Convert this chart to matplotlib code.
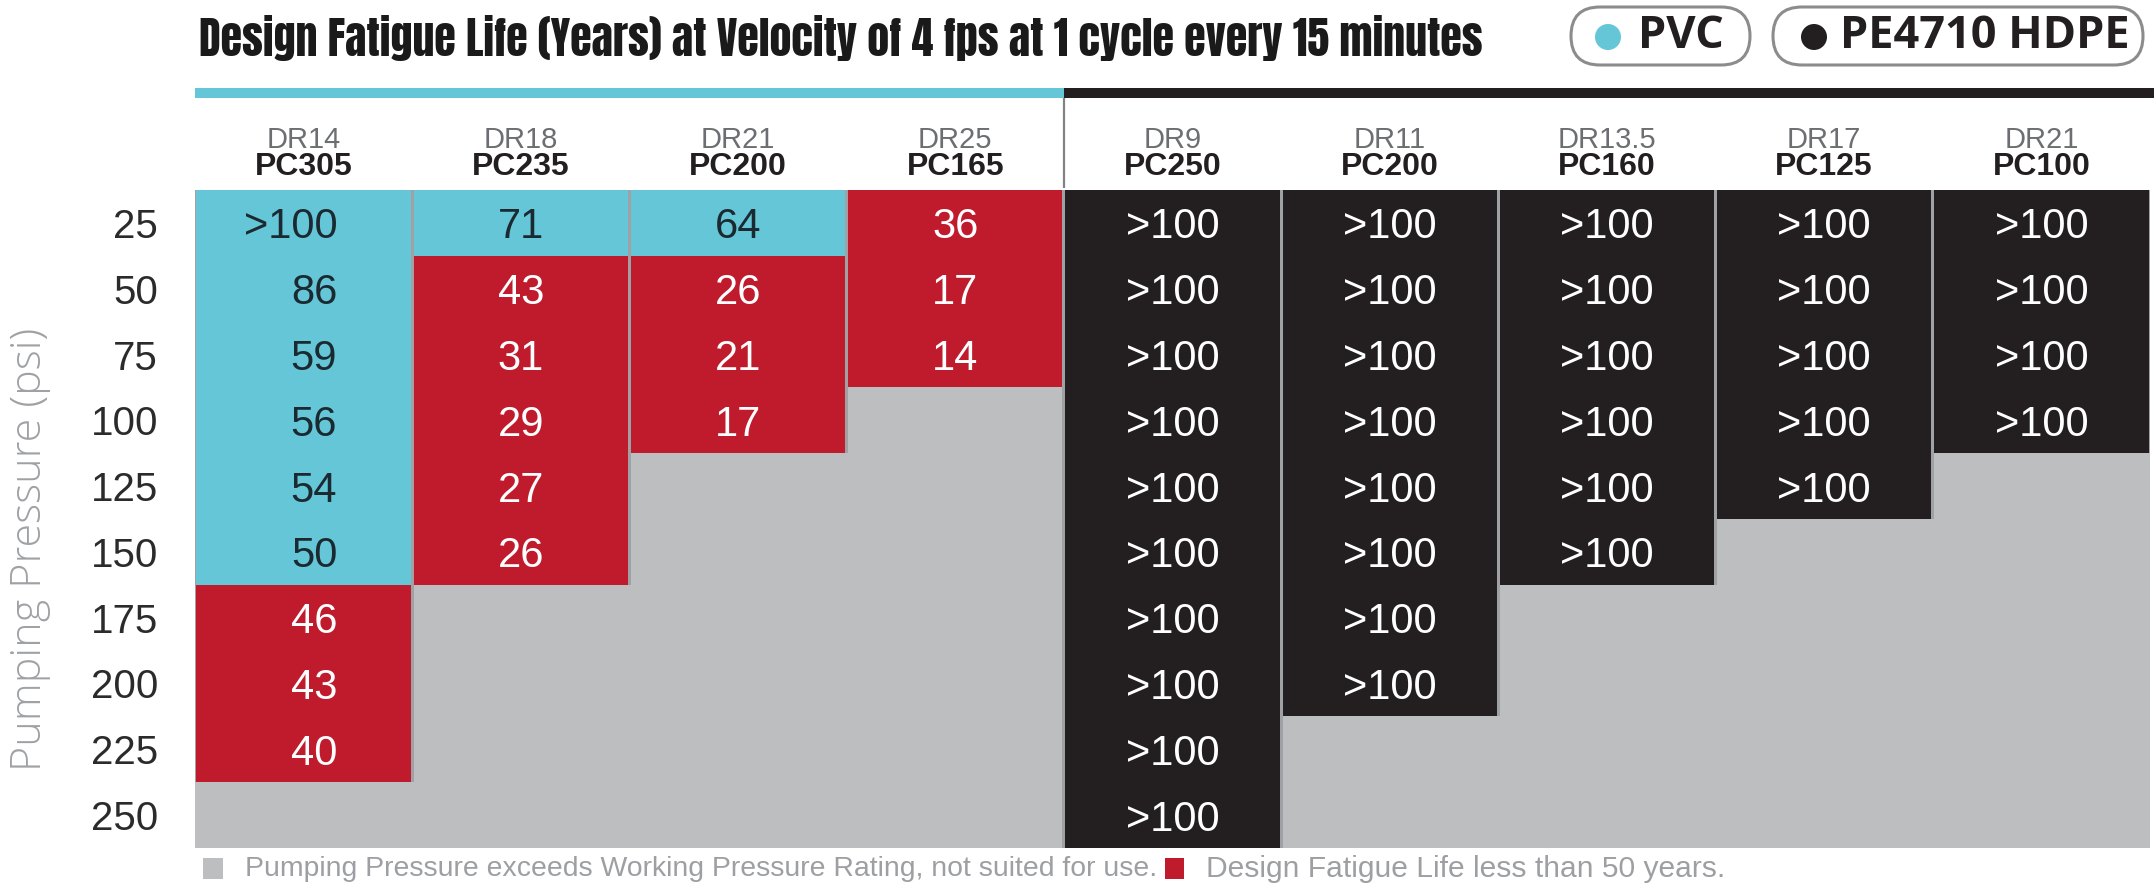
import matplotlib
matplotlib.use("Agg")
import matplotlib.pyplot as plt
from matplotlib.patches import Rectangle, FancyBboxPatch, Circle

# ---------------- data ----------------
pressures = [25, 50, 75, 100, 125, 150, 175, 200, 225, 250]
dr_labels = ["DR14", "DR18", "DR21", "DR25", "DR9", "DR11", "DR13.5", "DR17", "DR21"]
pc_labels = ["PC305", "PC235", "PC200", "PC165", "PC250", "PC200", "PC160", "PC125", "PC100"]
materials = ["PVC", "PVC", "PVC", "PVC", "HDPE", "HDPE", "HDPE", "HDPE", "HDPE"]

pvc_dr14 = [">100", 86, 59, 56, 54, 50, 46, 43, 40, None]
pvc_dr18 = [71, 43, 31, 29, 27, 26, None, None, None, None]
pvc_dr21 = [64, 26, 21, 17, None, None, None, None, None, None]
pvc_dr25 = [36, 17, 14, None, None, None, None, None, None, None]
hdpe_dr9 = [">100"] * 10
hdpe_dr11 = [">100"] * 8 + [None] * 2
hdpe_dr135 = [">100"] * 6 + [None] * 4
hdpe_dr17 = [">100"] * 5 + [None] * 5
hdpe_dr21 = [">100"] * 4 + [None] * 6
columns = [pvc_dr14, pvc_dr18, pvc_dr21, pvc_dr25,
           hdpe_dr9, hdpe_dr11, hdpe_dr135, hdpe_dr17, hdpe_dr21]

title = "Design Fatigue Life (Years) at Velocity of 4 fps at 1 cycle every 15 minutes"
legend_labels = ["PVC", "PE4710 HDPE"]
ylabel = "Pumping Pressure (psi)"
note_gray = "Pumping Pressure exceeds Working Pressure Rating, not suited for use."
note_red = "Design Fatigue Life less than 50 years."

# ---------------- style ----------------
CYAN = "#64C6D6"
RED = "#C01B2C"
BLACK = "#231F20"
GRAY = "#BCBEC0"
SANS = ["Liberation Sans", "DejaVu Sans"]
LIGHT = ["Open Sans", "Liberation Sans", "DejaVu Sans"]

W, H = 2154, 884
TL, TR, TT, TB = 195, 2150, 190, 848

fig = plt.figure(figsize=(W / 100, H / 100), dpi=100)
fig.patch.set_facecolor("white")

ov = fig.add_axes([0, 0, 1, 1], zorder=0)
ov.set_xlim(0, W)
ov.set_ylim(H, 0)
ov.axis("off")

ax = fig.add_axes([TL / W, 1 - TB / H, (TR - TL) / W, (TB - TT) / H], zorder=1)
ax.set_facecolor("none")
ncol, nrow = len(columns), len(pressures)
ax.set_xlim(0, ncol)
ax.set_ylim(nrow, 0)
ax.axis("off")

colw = (TR - TL) / ncol
rowh = (TB - TT) / nrow
def rowy(px):
    return (px - TT) / rowh

# gray background
ax.add_patch(Rectangle((0, -0.03), ncol, nrow + 0.03, facecolor=GRAY, edgecolor="none"))

gap = 1.4 / colw
for i, (col, mat) in enumerate(zip(columns, materials)):
    filled = sum(v is not None for v in col)
    # separator backing along the occupied part of the column
    ax.add_patch(Rectangle((i - gap, 0), 1 + 2 * gap, filled, facecolor="#9fa1a4",
                           edgecolor="none"))
for i, (col, mat) in enumerate(zip(columns, materials)):
    for j, v in enumerate(col):
        if v is None:
            continue
        if mat == "HDPE":
            fc, tc = BLACK, "white"
        elif v == ">100" or v >= 50:
            fc, tc = CYAN, "#1b2a31"
        else:
            fc, tc = RED, "white"
        ax.add_patch(Rectangle((i + gap, j), 1 - 2 * gap, 1, facecolor=fc, edgecolor="none"))
        if i == 0:
            x, ha = i + 0.655, "right"   # first column is right-aligned in the source
        else:
            x, ha = i + 0.5, "center"
        ax.text(x, j + 0.5, str(v), ha=ha, va="center_baseline",
                color=tc, fontsize=30, family=SANS)

# row labels
for j, p in enumerate(pressures):
    ax.text((158 - TL) / colw, j + 0.5, str(p), ha="right", va="center_baseline",
            color="#2b2b2b", fontsize=29, family=SANS, clip_on=False)

# column headers
for i, (d, pc) in enumerate(zip(dr_labels, pc_labels)):
    ax.text(i + 0.5, rowy(140), d, ha="center", va="center", color="#6d6e71",
            fontsize=21, family=SANS, clip_on=False)
    ax.text(i + 0.5, rowy(167), pc, ha="center", va="center", color=BLACK,
            fontsize=23, fontweight="bold", family=SANS, clip_on=False)

# top bars & divider
npvc = materials.count("PVC")
ax.add_patch(Rectangle((0, rowy(88)), npvc, 10 / rowh, facecolor=CYAN,
                       edgecolor="none", clip_on=False))
ax.add_patch(Rectangle((npvc, rowy(88)), ncol - npvc + 4 / colw, 10 / rowh,
                       facecolor=BLACK, edgecolor="none", clip_on=False))
ax.plot([npvc, npvc], [rowy(98), -0.03], color="#808285", lw=1.6,
        clip_on=False, solid_capstyle="butt")

fig.canvas.draw()
rend = fig.canvas.get_renderer()

def fit(t, target, vertical=False):
    bb = t.get_window_extent(rend)
    w = bb.height if vertical else bb.width
    t.set_fontsize(t.get_fontsize() * target / w)

# title
t_title = ov.text(199, 38, title, ha="left", va="center", color="#1a1a1a",
                  fontsize=30, family=["Anton", "Oswald", "DejaVu Sans"])
fit(t_title, 1285)

# legend pills
pills = [(1571, 1750, CYAN, 1608, 1638), (1773, 2143, BLACK, 1814, 1840)]
for (x0, x1, c, dx, tx), lab in zip(pills, legend_labels):
    y0, y1 = 7, 65
    r = (y1 - y0) / 2
    ov.add_patch(FancyBboxPatch((x0, y0), x1 - x0, y1 - y0,
                                boxstyle=f"round,pad=0,rounding_size={r}",
                                facecolor="white", edgecolor="#8c8c8c", lw=2.2))
    ov.add_patch(Circle((dx, (y0 + y1) / 2 + 1), 13, facecolor=c, edgecolor="none"))
    ov.text(tx, (y0 + y1) / 2 + 1, lab, ha="left", va="center", color=BLACK,
            fontsize=32.5, fontweight="bold", family=["Open Sans", "DejaVu Sans"])

# y label
ov.text(30, 549, ylabel, rotation=90, ha="center", va="center",
        color="#9fa1a4", fontsize=31, fontweight="light", family=LIGHT)

# footer notes
ov.add_patch(Rectangle((203, 858), 20, 21, facecolor=GRAY, edgecolor="none"))
t_n1 = ov.text(245, 869, note_gray, ha="left", va="center", color="#9d9fa2",
               fontsize=20, family=SANS)
fit(t_n1, 908)
ov.add_patch(Rectangle((1165, 858), 19, 21, facecolor=RED, edgecolor="none"))
ov.text(1206, 869, note_red, ha="left", va="center", color="#9d9fa2",
        fontsize=t_n1.get_fontsize() * 1.06, family=SANS)

fig.savefig("out.png", dpi=100, facecolor="white")
